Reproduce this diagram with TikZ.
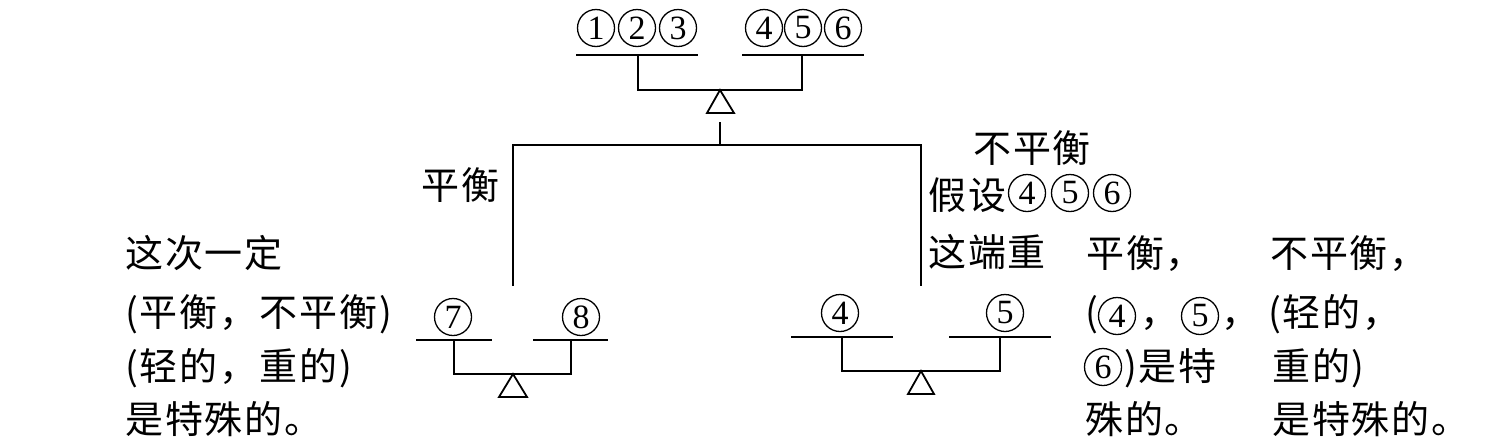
\documentclass[tikz,border=0pt]{standalone}
\usepackage{fontspec}
\setmainfont{Noto Sans CJK SC}[LetterSpace=5]
\newfontfamily\serifd{Liberation Serif}
\begin{document}
\begin{tikzpicture}[x=1pt,y=-1pt,
  ln/.style={line width=1.8pt,line cap=rect},
  tri/.style={line width=1.8pt,line join=miter,fill=white},
  txt/.style={anchor=base west,inner sep=0pt,font=\fontsize{38}{46}\selectfont},
  cn/.style={circle,draw,line width=1.3pt,minimum size=37pt,inner sep=0pt,
    anchor=center,font=\serifd\fontsize{34}{34}\selectfont}]
\useasboundingbox[fill=white] (0,0) rectangle (1489,445);

% ---------- top balance ----------
\node[cn] (c1) at (596,28) {1};
\node[cn] (c2) at (637,28) {2};
\node[cn] (c3) at (678,28) {3};
\node[cn] (c4) at (764,28) {4};
\node[cn] (c5) at (803,28) {5};
\node[cn] (c6) at (843,28) {6};
\coordinate (tLa) at (577,55); \coordinate (tLb) at (697,55);
\coordinate (tRa) at (743,55); \coordinate (tRb) at (863,55);
\coordinate (tLp) at (638,55); \coordinate (tRp) at (802,55);
\coordinate (tLq) at (638,90); \coordinate (tRq) at (802,90);
\coordinate (tApex) at (720,90);
\coordinate (tB1) at (707,113); \coordinate (tB2) at (734,113);
\coordinate (tStem) at (720,123); \coordinate (tJoin) at (720,145);
\draw[ln] (tLa) -- (tLb);
\draw[ln] (tRa) -- (tRb);
\draw[ln] (tLp) -- (tLq) -- (tRq) -- (tRp);
\draw[tri] (tApex) -- (tB2) -- (tB1) -- cycle;
\draw[ln] (tStem) -- (tJoin);

% ---------- branches ----------
\coordinate (bL) at (513,145); \coordinate (bR) at (921,145);
\coordinate (bLe) at (513,285); \coordinate (bRe) at (921,285);
\draw[ln] (bLe) -- (bL) -- (bR) -- (bRe);

\node[txt] (ping) at (421,199) {平衡};
\node[txt] (bup) at (973,162) {不平衡};
\node[txt] (jia) at (928,209) {假设};
\node[cn] (j4) at (1027,193) {4};
\node[cn] (j5) at (1070,193) {5};
\node[cn] (j6) at (1112,193) {6};
\node[txt] (zhe) at (928,266) {这端重};

% ---------- lower left balance ----------
\node[cn] (n7) at (453,317) {7};
\node[cn] (n8) at (581,317) {8};
\coordinate (lLa) at (417,340); \coordinate (lLb) at (491,340);
\coordinate (lRa) at (534,340); \coordinate (lRb) at (607,340);
\coordinate (lLp) at (454,340); \coordinate (lRp) at (571,340);
\coordinate (lLq) at (454,374); \coordinate (lRq) at (571,374);
\coordinate (lApex) at (513,374);
\coordinate (lB1) at (499,397); \coordinate (lB2) at (527,397);
\draw[ln] (lLa) -- (lLb);
\draw[ln] (lRa) -- (lRb);
\draw[ln] (lLp) -- (lLq) -- (lRq) -- (lRp);
\draw[tri] (lApex) -- (lB2) -- (lB1) -- cycle;

% ---------- lower right balance ----------
\node[cn] (n4) at (840,313) {4};
\node[cn] (n5) at (1005,313) {5};
\coordinate (rLa) at (792,337); \coordinate (rLb) at (892,337);
\coordinate (rRa) at (950,337); \coordinate (rRb) at (1050,337);
\coordinate (rLp) at (842,337); \coordinate (rRp) at (1000,337);
\coordinate (rLq) at (842,371); \coordinate (rRq) at (1000,371);
\coordinate (rApex) at (921,371);
\coordinate (rB1) at (908,394); \coordinate (rB2) at (934,394);
\draw[ln] (rLa) -- (rLb);
\draw[ln] (rRa) -- (rRb);
\draw[ln] (rLp) -- (rLq) -- (rRq) -- (rRp);
\draw[tri] (rApex) -- (rB2) -- (rB1) -- cycle;

% ---------- left text block ----------
\node[txt] (L1) at (125,267) {这次一定};
\node[txt] (L2) at (125,326) {(平衡，不平衡)};
\node[txt] (L3) at (125,380) {(轻的，重的)};
\node[txt] (L4) at (125,433) {是特殊的。};

% ---------- right text blocks ----------
\node[txt] (A1) at (1086,267) {平衡，};
\node[txt] (A2a) at (1085,326) {(};
\node[cn] (a4) at (1117,316) {4};
\node[txt] (A2b) at (1140,326) {，};
\node[cn] (a5) at (1200,316) {5};
\node[txt] (A2c) at (1221,326) {，};
\node[cn] (a6) at (1103,367) {6};
\node[txt] (A3) at (1124,380) {)是特};
\node[txt] (A4) at (1085,433) {殊的。};

\node[txt] (B1) at (1270,267) {不平衡，};
\node[txt] (B2) at (1268,326) {(轻的，};
\node[txt] (B3) at (1272,380) {重的)};
\node[txt] (B4) at (1272,433) {是特殊的。};
\end{tikzpicture}
\end{document}
